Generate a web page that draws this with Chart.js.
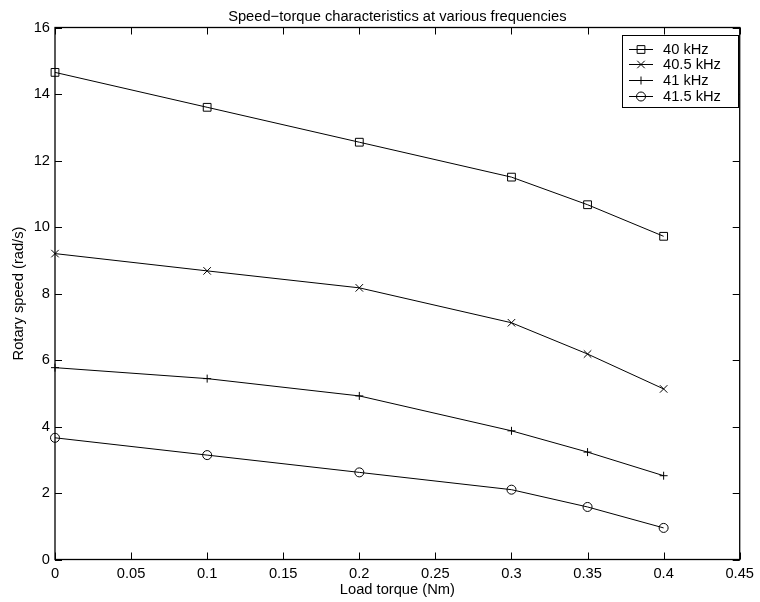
<!DOCTYPE html>
<html>
<head>
<meta charset="utf-8">
<script src="https://cdn.jsdelivr.net/npm/chart.js@4"></script>
<style>
  html, body { margin: 0; padding: 0; background: #fff; }
  #wrap { width: 760px; height: 602px; }
</style>
</head>
<body>
<div id="wrap"><canvas id="chart" width="760" height="602"></canvas></div>
<script>
// data
const torque = [0, 0.1, 0.2, 0.3, 0.35, 0.4];
const speed_40 = [14.65, 13.6, 12.55, 11.5, 10.67, 9.72];
const speed_40_5 = [9.2, 8.68, 8.17, 7.12, 6.18, 5.13];
const speed_41 = [5.77, 5.44, 4.92, 3.87, 3.23, 2.52];
const speed_41_5 = [3.66, 3.14, 2.62, 2.1, 1.58, 0.95];
const series_labels = ['40 kHz', '40.5 kHz', '41 kHz', '41.5 kHz'];
const title_text = 'Speed\u2212torque characteristics at various frequencies';
const x_label = 'Load torque (Nm)';
const y_label = 'Rotary speed (rad/s)';

const FONT = '"Liberation Sans", Arial, Helvetica, sans-serif';
const FSIZE = 14.7;
Chart.defaults.font.family = FONT;
Chart.defaults.font.size = FSIZE;
Chart.defaults.color = '#000';

function pts(ys){
  return torque.map((x, i) => ({x: x, y: ys[i]}));
}

function build_ds(label, ys, style, radius){
  return {
    label: label,
    data: pts(ys),
    showLine: true,
    borderColor: '#000',
    borderWidth: 1,
    pointStyle: style,
    pointRadius: radius,
    pointHoverRadius: radius,
    pointBorderWidth: 1,
    pointBorderColor: '#000',
    pointBackgroundColor: 'rgba(0,0,0,0)',
    clip: false
  };
}

// matlab-ish frame: box, inward ticks on all sides, title, legend
const frame_plugin = {
  id: 'frame',
  afterDraw(chart){
    const ctx = chart.ctx;
    const a = chart.chartArea;
    const xs = chart.scales.x, ys = chart.scales.y;
    const tl = 7;
    ctx.save();
    ctx.strokeStyle = '#000';
    ctx.lineWidth = 1.3;
    ctx.strokeRect(a.left, a.top, a.right - a.left, a.bottom - a.top);

    ctx.lineWidth = 1;
    ctx.beginPath();
    xs.ticks.forEach(t => {
      const px = Math.round(xs.getPixelForValue(t.value)) + 0.5;
      ctx.moveTo(px, a.bottom); ctx.lineTo(px, a.bottom - tl);
      ctx.moveTo(px, a.top); ctx.lineTo(px, a.top + tl);
    });
    ys.ticks.forEach(t => {
      const py = Math.round(ys.getPixelForValue(t.value)) + 0.5;
      ctx.moveTo(a.left, py); ctx.lineTo(a.left + tl, py);
      ctx.moveTo(a.right, py); ctx.lineTo(a.right - tl, py);
    });
    ctx.stroke();

    // title
    ctx.fillStyle = '#000';
    ctx.font = FSIZE + 'px ' + FONT;
    ctx.textAlign = 'center';
    ctx.textBaseline = 'alphabetic';
    ctx.fillText(title_text, (a.left + a.right) / 2, 21);

    // legend box
    const bx = 622, by = 35, bw = 116, bh = 72;
    ctx.fillStyle = '#fff';
    ctx.fillRect(bx, by, bw, bh);
    ctx.strokeStyle = '#000';
    ctx.lineWidth = 1;
    ctx.strokeRect(bx + 0.5, by + 0.5, bw, bh);
    ctx.textAlign = 'left';
    ctx.textBaseline = 'middle';
    chart.data.datasets.forEach((ds, i) => {
      const y = Math.round(48.5 + i * 15.8) + 0.5;
      ctx.strokeStyle = '#000';
      ctx.lineWidth = 1;
      ctx.beginPath();
      ctx.moveTo(629, y);
      ctx.lineTo(653, y);
      ctx.stroke();
      ctx.fillStyle = 'rgba(0,0,0,0)';
      Chart.helpers.drawPoint(ctx, {
        pointStyle: ds.pointStyle,
        radius: ds.pointRadius,
        rotation: 0,
        borderWidth: 1
      }, 641, y);
      ctx.fillStyle = '#000';
      ctx.fillText(ds.label, 663, y + 0.5);
    });
    ctx.restore();
  }
};

new Chart(document.getElementById('chart'), {
  type: 'scatter',
  data: {
    datasets: [
      build_ds(series_labels[0], speed_40, 'rect', 5.5),
      build_ds(series_labels[1], speed_40_5, 'crossRot', 5.3),
      build_ds(series_labels[2], speed_41, 'cross', 4),
      build_ds(series_labels[3], speed_41_5, 'circle', 4.5)
    ]
  },
  options: {
    responsive: false,
    animation: false,
    devicePixelRatio: 1,
    layout: { padding: { left: 0, right: 16, top: 27.5, bottom: 0 } },
    plugins: {
      legend: { display: false },
      tooltip: { enabled: false },
      title: { display: false }
    },
    scales: {
      x: {
        type: 'linear',
        min: 0,
        max: 0.45,
        grid: { display: false, drawTicks: false },
        border: { display: false },
        ticks: {
          stepSize: 0.05,
          autoSkip: false,
          maxRotation: 0,
          padding: 6,
          callback: v => String(+v.toFixed(2))
        },
        title: { display: true, text: x_label, padding: { top: 0, bottom: 3 } },
        afterFit(scale){ scale.height = 42.5; }
      },
      y: {
        type: 'linear',
        min: 0,
        max: 16,
        grid: { display: false, drawTicks: false },
        border: { display: false },
        ticks: {
          stepSize: 2,
          padding: 5,
          callback: v => String(v)
        },
        title: { display: true, text: y_label, padding: { top: 10, bottom: 0 } },
        afterFit(scale){ scale.width = 55; }
      }
    }
  },
  plugins: [frame_plugin]
});
</script>
</body>
</html>
